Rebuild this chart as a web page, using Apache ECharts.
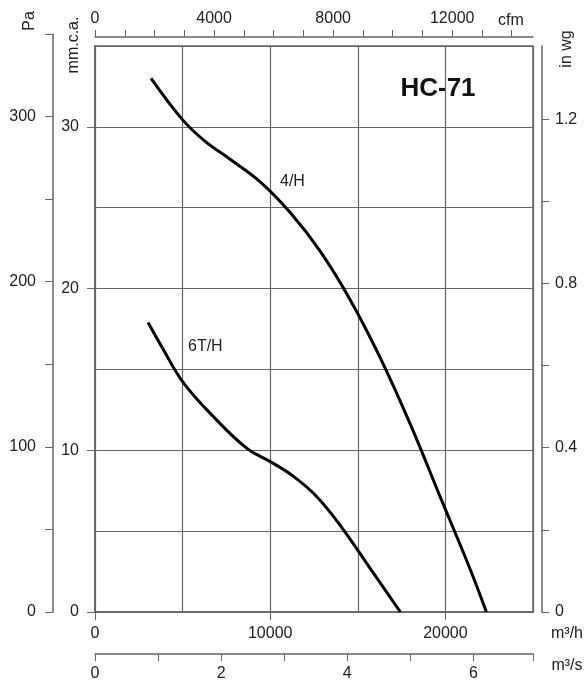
<!DOCTYPE html>
<html>
<head>
<meta charset="utf-8">
<script src="https://cdn.jsdelivr.net/npm/echarts@6/dist/echarts.min.js"></script>
<style>
  html, body { margin: 0; padding: 0; background: #fff; }
  #chart { width: 587px; height: 684px; }
</style>
</head>
<body>
<div id="chart"></div>
<script>
// curve 4/H : flow (m3/h) vs pressure (mm.c.a.)
var flow4H = [3200, 5030, 6290, 7710, 9430, 11140, 12860, 14570, 16290, 18000, 19710, 21430, 22340];
var press4H = [33.0, 30.4, 29.1, 28.0, 26.6, 24.7, 22.3, 19.3, 15.7, 11.6, 7.1, 2.6, 0];
// curve 6T/H
var flow6TH = [3030, 3890, 5030, 6740, 8690, 10000, 11310, 12690, 14170, 15830, 17430];
var press6TH = [17.9, 16.25, 14.2, 12.1, 10.1, 9.3, 8.4, 7.1, 5.1, 2.5, 0];

// tick labels
var m3hLabels = [0, 10000, 20000];
var m3sLabels = [0, 2, 4, 6];
var cfmTicks = [0, 1000, 2000, 3000, 4000, 5000, 6000, 7000, 8000, 9000, 10000, 11000, 12000, 13000, 14000];
var cfmLabels = [0, 4000, 8000, 12000];
var mmLabels = [0, 10, 20, 30];
var paLabels = [0, 100, 200, 300];
var inwgTicks = [0, 0.2, 0.4, 0.6, 0.8, 1.0, 1.2];
var inwgLabels = [0, 0.4, 0.8, 1.2];

var maxM3h = 25000;
var maxMm = 35;

function pairs(xs, ys) {
  var out = [];
  for (var i = 0; i < xs.length; i++) out.push([xs[i], ys[i]]);
  return out;
}
function plain(v) { return String(v); }

var txt = '#222';
var lineCol = '#666';
var font = 'Liberation Sans, Arial, sans-serif';
var lbl = { color: txt, fontSize: 16, fontFamily: font, formatter: plain };

var myChart = echarts.init(document.getElementById('chart'), null, { renderer: 'canvas' });

var option = {
  backgroundColor: '#fff',
  animation: false,
  grid: [
    { left: 95, right: 54, top: 46, bottom: 72, show: true, borderColor: lineCol, borderWidth: 1.5, backgroundColor: 'transparent' },
    { left: 95, right: 54, top: 37, height: 1 },   // cfm axis
    { left: 95, right: 54, top: 653, height: 1 },  // m3/s axis
    { left: 53, width: 1, top: 34, bottom: 72 }    // Pa axis
  ],
  xAxis: [
    { // grid lines
      gridIndex: 0, type: 'value', position: 'bottom', min: 0, max: maxM3h, interval: 5000,
      axisLine: { show: false, onZero: false }, axisTick: { show: false }, axisLabel: { show: false },
      splitLine: { show: true, lineStyle: { color: lineCol, width: 1.2 } }
    },
    { // m3/h
      gridIndex: 0, type: 'value', position: 'bottom', min: 0, max: maxM3h,
      axisLine: { show: true, onZero: false, lineStyle: { color: lineCol, width: 1.5 } },
      axisTick: { show: true, length: 8, inside: false, customValues: m3hLabels, lineStyle: { color: lineCol } },
      axisLabel: Object.assign({ margin: 14, customValues: m3hLabels }, lbl),
      splitLine: { show: false }
    },
    { // cfm
      gridIndex: 1, type: 'value', position: 'top', min: 0, max: maxM3h / 1.699,
      axisLine: { show: true, onZero: false, lineStyle: { color: lineCol, width: 1.5 } },
      axisTick: { show: true, length: 7, customValues: cfmTicks, lineStyle: { color: lineCol } },
      axisLabel: Object.assign({ margin: 10, customValues: cfmLabels }, lbl),
      splitLine: { show: false }
    },
    { // m3/s
      gridIndex: 2, type: 'value', position: 'bottom', min: 0, max: maxM3h / 3600, interval: 1,
      axisLine: { show: true, onZero: false, lineStyle: { color: lineCol, width: 1.5 } },
      axisTick: { show: true, length: 7, lineStyle: { color: lineCol } },
      axisLabel: Object.assign({ margin: 12, customValues: m3sLabels }, lbl),
      splitLine: { show: false }
    },
    { gridIndex: 3, type: 'value', show: false }
  ],
  yAxis: [
    { // grid lines
      gridIndex: 0, type: 'value', position: 'left', min: 0, max: maxMm, interval: 5,
      axisLine: { show: false }, axisTick: { show: false }, axisLabel: { show: false },
      splitLine: { show: true, lineStyle: { color: lineCol, width: 1.2 } }
    },
    { // mm.c.a.
      gridIndex: 0, type: 'value', position: 'left', min: 0, max: maxMm,
      axisLine: { show: true, onZero: false, lineStyle: { color: lineCol, width: 1.5 } },
      axisTick: { show: true, length: 8, customValues: mmLabels, lineStyle: { color: lineCol } },
      axisLabel: Object.assign({ margin: 16, customValues: mmLabels }, lbl),
      splitLine: { show: false }
    },
    { // in wg
      gridIndex: 0, type: 'value', position: 'right', offset: 9, min: 0, max: maxMm / 25.4,
      axisLine: { show: true, onZero: false, lineStyle: { color: lineCol, width: 1.5 } },
      axisTick: { show: true, length: 7, customValues: inwgTicks, lineStyle: { color: lineCol } },
      axisLabel: Object.assign({}, lbl, { margin: 13, customValues: inwgLabels, formatter: function (v) { return v === 0 ? '0' : v.toFixed(1); } }),
      splitLine: { show: false }
    },
    { gridIndex: 1, type: 'value', show: false },
    { gridIndex: 2, type: 'value', show: false },
    { // Pa
      gridIndex: 3, type: 'value', position: 'left', min: 0, max: 350, interval: 50,
      axisLine: { show: true, onZero: false, lineStyle: { color: lineCol, width: 1.5 } },
      axisTick: { show: true, length: 8, lineStyle: { color: lineCol } },
      axisLabel: Object.assign({ margin: 17, customValues: paLabels }, lbl),
      splitLine: { show: false }
    }
  ],
  graphic: [
    { type: 'text', x: 30, y: 21, rotation: Math.PI / 2, style: { text: 'Pa', fill: txt, font: '16px ' + font, textAlign: 'center', textVerticalAlign: 'middle' } },
    { type: 'text', x: 74, y: 45, rotation: Math.PI / 2, style: { text: 'mm.c.a.', fill: txt, font: '16px ' + font, textAlign: 'center', textVerticalAlign: 'middle' } },
    { type: 'text', x: 567, y: 49, rotation: Math.PI / 2, style: { text: 'in wg', fill: txt, font: '16px ' + font, textAlign: 'center', textVerticalAlign: 'middle' } },
    { type: 'text', x: 511, y: 21, style: { text: 'cfm', fill: txt, font: '16px ' + font, textAlign: 'center', textVerticalAlign: 'middle' } },
    { type: 'text', x: 567, y: 634, style: { text: 'm³/h', fill: txt, font: '16px ' + font, textAlign: 'center', textVerticalAlign: 'middle' } },
    { type: 'text', x: 567, y: 666, style: { text: 'm³/s', fill: txt, font: '16px ' + font, textAlign: 'center', textVerticalAlign: 'middle' } },
    { type: 'text', x: 438, y: 89, style: { text: 'HC-71', fill: '#111', font: 'bold 26px ' + font, textAlign: 'center', textVerticalAlign: 'middle' } },
    { type: 'text', x: 280, y: 182, style: { text: '4/H', fill: txt, font: '16px ' + font, textAlign: 'left', textVerticalAlign: 'middle' } },
    { type: 'text', x: 188, y: 347, style: { text: '6T/H', fill: txt, font: '16px ' + font, textAlign: 'left', textVerticalAlign: 'middle' } }
  ],
  series: [
    {
      name: '4/H', type: 'line', xAxisIndex: 0, yAxisIndex: 0,
      data: pairs(flow4H, press4H), smooth: 0.4, symbol: 'none',
      lineStyle: { color: '#000', width: 3 }
    },
    {
      name: '6T/H', type: 'line', xAxisIndex: 0, yAxisIndex: 0,
      data: pairs(flow6TH, press6TH), smooth: 0.4, symbol: 'none',
      lineStyle: { color: '#000', width: 3 }
    }
  ]
};

myChart.setOption(option);
</script>
</body>
</html>
